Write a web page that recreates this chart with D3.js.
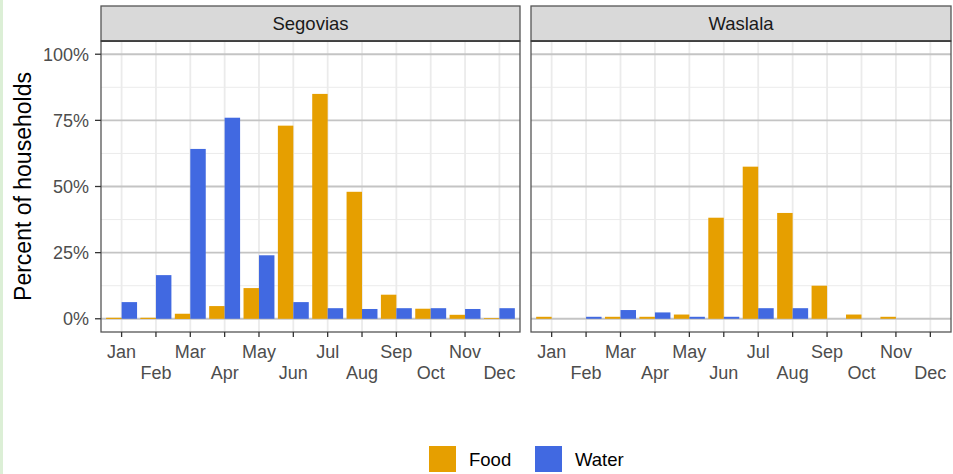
<!DOCTYPE html>
<html>
<head>
<meta charset="utf-8">
<script src="https://cdn.jsdelivr.net/npm/d3@7"></script>
<style>
  html, body { margin: 0; padding: 0; background: #fff; }
  svg { display: block; }
  text { font-family: "Liberation Sans", Arial, sans-serif; }
</style>
</head>
<body>
<script>
// Months and the two regions
const months = ["Jan","Feb","Mar","Apr","May","Jun","Jul","Aug","Sep","Oct","Nov","Dec"];
const regions = ["Segovias", "Waslala"];
const seriesNames = ["Food", "Water"];
const seriesColors = ["#E69F00", "#4169E1"];
const yTicks = [0, 0.25, 0.5, 0.75, 1];
const yTickLabels = ["0%", "25%", "50%", "75%", "100%"];

// Share of households reporting shortage, by month
const segoviasFood  = [0.003, 0.003, 0.019, 0.048, 0.116, 0.73, 0.85, 0.48, 0.091, 0.038, 0.015, 0.003];
const segoviasWater = [0.063, 0.165, 0.642, 0.76, 0.24, 0.063, 0.04, 0.037, 0.04, 0.04, 0.037, 0.04];
const waslalaFood   = [0.0075, 0, 0.0075, 0.0075, 0.016, 0.382, 0.575, 0.40, 0.125, 0.016, 0.0075, 0];
const waslalaWater  = [0, 0.0075, 0.033, 0.024, 0.0075, 0.0075, 0.04, 0.04, 0, 0, 0, 0];

const values = {
  Segovias: { Food: segoviasFood, Water: segoviasWater },
  Waslala:  { Food: waslalaFood,  Water: waslalaWater }
};

const W = 953, H = 474;
const svg = d3.select("body").append("svg").attr("width", W).attr("height", H);

// thin tinted strip at the left edge
svg.append("rect").attr("x", 0).attr("y", 0).attr("width", 3).attr("height", H).attr("fill", "#dcefd6");

const panels = [
  { name: regions[0], x0: 101, x1: 520 },
  { name: regions[1], x0: 531, x1: 951 }
];
const stripTop = 6, stripBot = 41, panelBot = 332;

const y = d3.scaleLinear().domain([-0.05, 1.05]).range([panelBot, stripBot]);

panels.forEach((p, pi) => {
  // discrete axis with 0.6-unit expansion on each side
  const x = d3.scalePoint().domain(months).range([p.x0, p.x1]).padding(0.6);
  const unit = x.step();
  const cx = m => x(m);

  const g = svg.append("g");

  // minor horizontal grid
  [0.125, 0.375, 0.625, 0.875].forEach(v => {
    g.append("line").attr("x1", p.x0).attr("x2", p.x1)
      .attr("y1", y(v)).attr("y2", y(v))
      .attr("stroke", "#ebebeb").attr("stroke-width", 1);
  });
  // vertical grid at months
  months.forEach(m => {
    g.append("line").attr("x1", cx(m)).attr("x2", cx(m))
      .attr("y1", stripBot).attr("y2", panelBot)
      .attr("stroke", "#ebebeb").attr("stroke-width", 1.8);
  });
  // major horizontal grid
  yTicks.forEach(v => {
    g.append("line").attr("x1", p.x0).attr("x2", p.x1)
      .attr("y1", y(v)).attr("y2", y(v))
      .attr("stroke", "#c4c4c4").attr("stroke-width", 1.8);
  });

  // bars: dodged, total width 0.9 of a month
  const bw = 0.45 * unit;
  seriesNames.forEach((s, si) => {
    g.selectAll(null).data(values[p.name][s]).enter().append("rect")
      .attr("x", (d, i) => cx(months[i]) - 0.45 * unit + si * bw)
      .attr("width", bw)
      .attr("y", d => y(d))
      .attr("height", d => Math.max(0, y(0) - y(d)))
      .attr("fill", seriesColors[si]);
    // very small bars still show as a thin line
    g.selectAll(null).data(values[p.name][s]).enter()
      .filter(d => d > 0 && y(0) - y(d) < 1)
      .append("line")
      .attr("x1", (d, i) => cx(months[i]) - 0.45 * unit + si * bw)
      .attr("x2", (d, i) => cx(months[i]) - 0.45 * unit + (si + 1) * bw)
      .attr("y1", y(0) - 0.5).attr("y2", y(0) - 0.5)
      .attr("stroke", seriesColors[si]).attr("stroke-width", 1);
  });

  // panel border
  g.append("rect").attr("x", p.x0).attr("y", stripBot)
    .attr("width", p.x1 - p.x0).attr("height", panelBot - stripBot)
    .attr("fill", "none").attr("stroke", "#555").attr("stroke-width", 1.3);

  // strip
  g.append("rect").attr("x", p.x0).attr("y", stripTop)
    .attr("width", p.x1 - p.x0).attr("height", stripBot - stripTop)
    .attr("fill", "#d9d9d9").attr("stroke", "#555").attr("stroke-width", 1.3);
  g.append("line").attr("x1", p.x0).attr("x2", p.x1)
    .attr("y1", stripBot).attr("y2", stripBot)
    .attr("stroke", "#333").attr("stroke-width", 1.6);
  g.append("text").attr("x", (p.x0 + p.x1) / 2).attr("y", (stripTop + stripBot) / 2 + 6.5)
    .attr("text-anchor", "middle").attr("font-size", 18.5).attr("fill", "#1a1a1a")
    .text(p.name);

  // x axis ticks and two-row labels
  months.forEach((m, i) => {
    g.append("line").attr("x1", cx(m)).attr("x2", cx(m))
      .attr("y1", panelBot).attr("y2", panelBot + 5)
      .attr("stroke", "#333").attr("stroke-width", 1.3);
    g.append("text").attr("x", cx(m))
      .attr("y", i % 2 === 0 ? 357.5 : 378.5)
      .attr("text-anchor", "middle").attr("font-size", 18).attr("fill", "#4d4d4d")
      .text(m);
  });

  // y axis on the first panel only
  if (pi === 0) {
    yTicks.forEach((v, i) => {
      g.append("line").attr("x1", p.x0 - 6).attr("x2", p.x0)
        .attr("y1", y(v)).attr("y2", y(v))
        .attr("stroke", "#333").attr("stroke-width", 1.3);
      g.append("text").attr("x", p.x0 - 12).attr("y", y(v) + 6.3)
        .attr("text-anchor", "end").attr("font-size", 18).attr("fill", "#4d4d4d")
        .text(yTickLabels[i]);
    });
  }
});

// y axis title
svg.append("text")
  .attr("transform", `translate(31, ${y(0.5) - 0}) rotate(-90)`)
  .attr("text-anchor", "middle").attr("font-size", 23).attr("fill", "#000")
  .text("Percent of households");

// legend
const legend = svg.append("g");
const legendItems = [{ x: 429, label: "Food" }, { x: 535, label: "Water" }];
legendItems.forEach((it, i) => {
  legend.append("rect").attr("x", it.x).attr("y", 446).attr("width", 27).attr("height", 26)
    .attr("fill", seriesColors[i]);
  legend.append("text").attr("x", it.x + 40).attr("y", 466)
    .attr("font-size", 18.5).attr("fill", "#000").text(it.label);
});
</script>
</body>
</html>
